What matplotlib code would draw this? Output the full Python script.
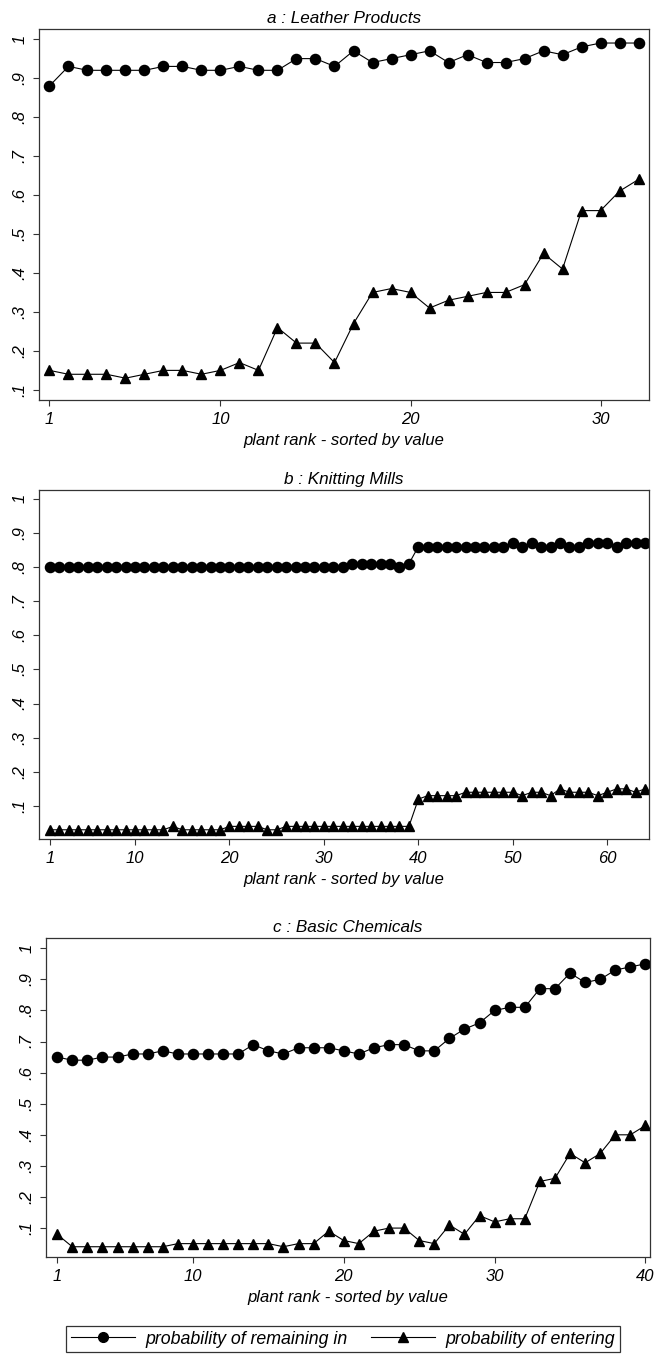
import matplotlib
matplotlib.use('Agg')
import matplotlib.pyplot as plt
from matplotlib.lines import Line2D

plt.rcParams['font.family'] = ['Liberation Sans', 'DejaVu Sans']
plt.rcParams['font.style'] = 'italic'

# a : Leather Products (32 plants)
leather_remain = [0.88, 0.93, 0.92, 0.92, 0.92, 0.92, 0.93, 0.93, 0.92, 0.92, 0.93, 0.92, 0.92, 0.95, 0.95, 0.93,
                  0.97, 0.94, 0.95, 0.96, 0.97, 0.94, 0.96, 0.94, 0.94, 0.95, 0.97, 0.96, 0.98, 0.99, 0.99, 0.99]
leather_enter = [0.15, 0.14, 0.14, 0.14, 0.13, 0.14, 0.15, 0.15, 0.14, 0.15, 0.17, 0.15, 0.26, 0.22, 0.22, 0.17,
                 0.27, 0.35, 0.36, 0.35, 0.31, 0.33, 0.34, 0.35, 0.35, 0.37, 0.45, 0.41, 0.56, 0.56, 0.61, 0.64]

# b : Knitting Mills (64 plants)
knit_remain = ([0.80] * 32 + [0.81] * 5 + [0.80, 0.81] + [0.86] * 10 +
               [0.87, 0.86, 0.87, 0.86, 0.86, 0.87, 0.86, 0.86, 0.87, 0.87, 0.87, 0.86, 0.87, 0.87, 0.87])
knit_enter = ([0.03] * 13 + [0.04] + [0.03] * 5 + [0.04] * 4 + [0.03] * 2 + [0.04] * 14 + [0.12] +
              [0.13] * 4 + [0.14] * 6 + [0.13, 0.14, 0.14, 0.13, 0.15, 0.14, 0.14, 0.14, 0.13, 0.14,
                                         0.15, 0.15, 0.14, 0.15])

# c : Basic Chemicals (40 plants)
chem_remain = [0.65, 0.64, 0.64, 0.65, 0.65, 0.66, 0.66, 0.67, 0.66, 0.66, 0.66, 0.66, 0.66, 0.69, 0.67, 0.66,
               0.68, 0.68, 0.68, 0.67, 0.66, 0.68, 0.69, 0.69, 0.67, 0.67, 0.71, 0.74, 0.76, 0.80, 0.81, 0.81,
               0.87, 0.87, 0.92, 0.89, 0.90, 0.93, 0.94, 0.95]
chem_enter = [0.08, 0.04, 0.04, 0.04, 0.04, 0.04, 0.04, 0.04, 0.05, 0.05, 0.05, 0.05, 0.05, 0.05, 0.05, 0.04,
              0.05, 0.05, 0.09, 0.06, 0.05, 0.09, 0.10, 0.10, 0.06, 0.05, 0.11, 0.08, 0.14, 0.12, 0.13, 0.13,
              0.25, 0.26, 0.34, 0.31, 0.34, 0.40, 0.40, 0.43]

titles = ['a : Leather Products', 'b : Knitting Mills', 'c : Basic Chemicals']
xticks = [[1, 10, 20, 30], [1, 10, 20, 30, 40, 50, 60], [1, 10, 20, 30, 40]]
yticks = [0.1, 0.2, 0.3, 0.4, 0.5, 0.6, 0.7, 0.8, 0.9, 1.0]
ytick_labels = ['.1', '.2', '.3', '.4', '.5', '.6', '.7', '.8', '.9', '1']
legend_labels = ['probability of remaining in', 'probability of entering']

W, H = 655, 1354
fig = plt.figure(figsize=(W / 100, H / 100), dpi=100)

# panel frames in pixels: left, top, right, bottom
boxes = [(39, 29, 649, 400), (39, 490, 649, 839), (46, 938, 650, 1257)]
xlims = [(0.45, 32.55), (-0.17, 64.42), (0.26, 40.3)]
ylims = [(0.074, 1.026), (0.003, 1.026), (0.007, 1.033)]
series = [(leather_remain, leather_enter), (knit_remain, knit_enter), (chem_remain, chem_enter)]

for i in range(3):
    l, t, r, b = boxes[i]
    ax = fig.add_axes([l / W, 1 - b / H, (r - l) / W, (b - t) / H])
    remain, enter = series[i]
    x = list(range(1, len(remain) + 1))
    ax.plot(x, remain, color='black', lw=0.8, marker='o', ms=7.3, mfc='black', mec='black')
    ax.plot(x, enter, color='black', lw=0.8, marker='^', ms=7.3, mfc='black', mec='black')
    ax.set_xlim(xlims[i])
    ax.set_ylim(ylims[i])
    ax.set_xticks(xticks[i])
    ax.set_xticklabels([str(v) for v in xticks[i]], fontsize=12, style='italic')
    ax.set_yticks(yticks)
    ax.set_yticklabels(ytick_labels, fontsize=12, rotation=90, va='center', style='italic')
    ax.tick_params(direction='out', length=4, width=0.8, color='#333333', pad=4.5)
    for s in ax.spines.values():
        s.set_linewidth(0.9)
        s.set_color('#333333')
    ax.set_title(titles[i], fontsize=12.3, style='italic', pad=4)
    ax.set_xlabel('plant rank - sorted by value', fontsize=12, style='italic', labelpad=4.5)

handles = [Line2D([], [], color='black', lw=0.8, marker='o', ms=7),
           Line2D([], [], color='black', lw=0.8, marker='^', ms=7)]
leg = fig.legend(handles, legend_labels, loc='center', bbox_to_anchor=(343 / W, 1 - 1339 / H),
                 ncol=2, frameon=True, fancybox=False, handlelength=3.6, handletextpad=0.6,
                 columnspacing=1.3, borderpad=0.25, borderaxespad=0,
                 prop={'style': 'italic', 'size': 12.8})
leg.get_frame().set_edgecolor('black')
leg.get_frame().set_linewidth(0.9)

fig.savefig('out.png', dpi=100)
